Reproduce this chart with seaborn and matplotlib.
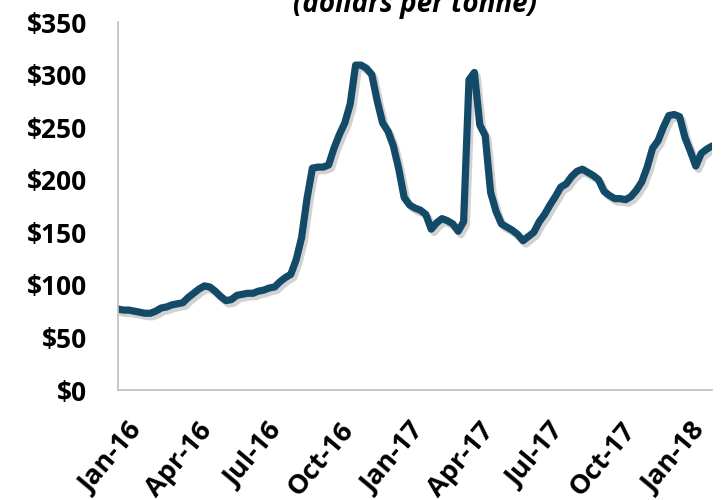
import matplotlib
matplotlib.use("Agg")
import matplotlib.pyplot as plt
import matplotlib.dates as mdates
import matplotlib.patheffects as pe
import matplotlib.ticker as mticker
import matplotlib.transforms as mtransforms
import numpy as np
import pandas as pd
import seaborn as sns

# Weekly price, dollars per tonne, starting the first week of 2016
start_date = "2016-01-01"
prices = [
    77, 76, 76, 75, 74, 73, 73, 75, 78, 79,
    81, 82, 83, 88, 92, 96, 99, 98, 94, 89,
    85, 86, 90, 91, 92, 92, 94, 95, 97, 98,
    103, 107, 110, 124, 145, 182, 211, 212, 212, 214,
    230, 243, 254, 272, 309, 309, 306, 300, 275, 254,
    246, 232, 210, 183, 176, 173, 171, 167, 153, 159,
    163, 161, 158, 151, 160, 295, 302, 252, 242, 188,
    170, 158, 155, 152, 148, 142, 146, 150, 160, 167,
    176, 184, 193, 196, 203, 208, 210, 207, 204, 200,
    189, 185, 182, 182, 181, 184, 190, 198, 212, 230,
    237, 250, 261, 262, 260, 240, 227, 213, 225, 229,
    232,
]
subtitle = "(dollars per tonne)"
y_ticks = [0, 50, 100, 150, 200, 250, 300, 350]

dates = pd.date_range(start_date, periods=len(prices), freq="7D")
df = pd.DataFrame({"date": dates, "price": prices})

sns.set_style("white")
plt.rcParams["font.family"] = ["Open Sans", "DejaVu Sans"]
plt.rcParams["font.weight"] = "bold"

line_color = "#134A68"
axis_gray = "#BFBFBF"

fig = plt.figure(figsize=(7.21, 5.00), dpi=100)
ax = fig.add_axes([118 / 721, 110 / 500, 594 / 721, 368 / 500])

sns.lineplot(data=df, x="date", y="price", ax=ax, color=line_color,
             linewidth=5.2, solid_joinstyle="round", solid_capstyle="round")
ax.lines[0].set_path_effects([
    pe.SimpleLineShadow(offset=(2.0, -2.5), shadow_color="#7f7f7f", alpha=0.35),
    pe.Normal(),
])

ax.set_xlim(dates[0], dates[-1])
ax.set_ylim(y_ticks[0], y_ticks[-1])
ax.set_yticks(y_ticks)
ax.yaxis.set_major_formatter(mticker.FuncFormatter(lambda v, _: f"${v:,.0f}"))
ax.xaxis.set_major_locator(mdates.MonthLocator(bymonth=[1, 4, 7, 10]))
ax.xaxis.set_major_formatter(mdates.DateFormatter("%b-%y"))

ax.set_xlabel("")
ax.set_ylabel("")

for side in ["top", "right"]:
    ax.spines[side].set_visible(False)
for side in ["left", "bottom"]:
    ax.spines[side].set_color(axis_gray)
    ax.spines[side].set_linewidth(1.2)

ax.tick_params(axis="y", length=0, pad=22, labelsize=19, labelcolor="black")
ax.tick_params(axis="x", length=0, pad=20, labelsize=19.5, labelcolor="black")
for lbl in ax.get_yticklabels():
    lbl.set_fontweight("bold")
shift = mtransforms.ScaledTranslation(7 / 72, 0, fig.dpi_scale_trans)
for lbl in ax.get_xticklabels():
    lbl.set_fontweight("bold")
    lbl.set_rotation(50)
    lbl.set_rotation_mode("anchor")
    lbl.set_ha("right")
    lbl.set_va("top")
    lbl.set_transform(lbl.get_transform() + shift)

fig.text(415 / 721, 1 - 12 / 500, subtitle, ha="center", va="baseline",
         fontsize=20, fontweight="bold", fontstyle="italic", color="black")

fig.savefig("out.png", dpi=100, facecolor="white")
